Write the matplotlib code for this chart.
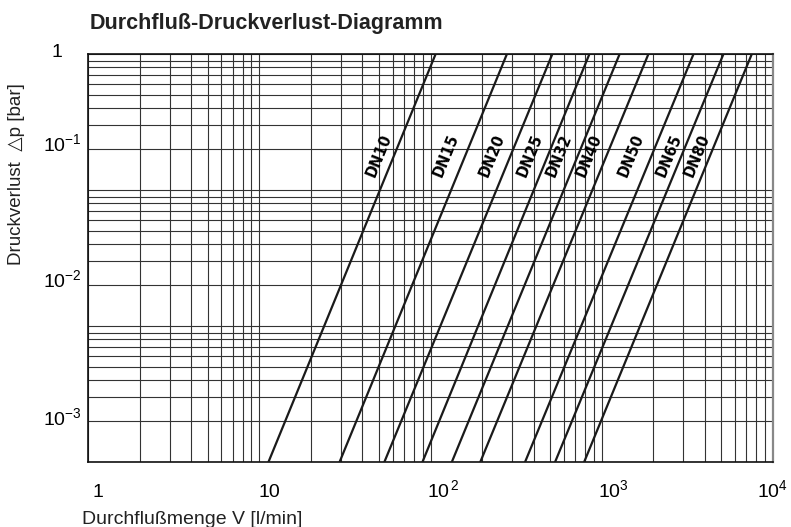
import matplotlib
matplotlib.use("Agg")
import matplotlib.pyplot as plt
from matplotlib.ticker import LogLocator, NullFormatter
import numpy as np

# pipe sizes and flow [l/min] read where each line meets the bottom (1e-3 bar) and top (1 bar)
dn_labels = ["DN10", "DN15", "DN20", "DN25", "DN32", "DN40", "DN50", "DN65", "DN80"]
q_at_low = [11.3, 29.4, 53.7, 89.6, 133, 195, 356, 533, 788]
q_at_high = [107, 279, 514, 846, 1270, 1870, 3430, 5130, 7510]
dp_ends = [1e-3, 1.0]

x_ticks = [1, 10, 100, 1000, 10000]
x_ticklabels = ["1", "10", r"$10^{\,2}$", r"$10^{3}$", r"$10^{4}$"]
y_ticks = [1.0, 0.1, 0.01, 0.001]
y_ticklabels = ["1", r"$10^{-1}$", r"$10^{-2}$", r"$10^{-3}$"]

# layout (pixel offsets of the hand placed labels)
x_label_dx = [4, -1, -3.5, -4, -16]
y_label_dx = [-26, -6, -6, -6]
y_label_dy = [-2.7, 38.7, 38.7, 37.5]
dn_label_dx = [-15, -19, -19, -18, -19, -18, -21, -13, -13]
dn_label_dp = 0.18

plt.rcParams["font.family"] = ["Liberation Sans", "DejaVu Sans"]
plt.rcParams["mathtext.fontset"] = "custom"
plt.rcParams["mathtext.rm"] = "Liberation Sans"
plt.rcParams["mathtext.it"] = "Liberation Sans:italic"
plt.rcParams["mathtext.bf"] = "Liberation Sans:bold"

W, H = 791, 527
fig = plt.figure(figsize=(W / 100, H / 100), dpi=100)
ax = fig.add_axes([88 / W, 1 - 462.3 / H, 685 / W, 408 / H])
ax.set_xscale("log")
ax.set_yscale("log")
ax.set_xlim(1, 1e4)
ax.set_ylim(1e-3, 1)

for axis in (ax.xaxis, ax.yaxis):
    axis.set_major_locator(LogLocator(base=10, numticks=20))
    axis.set_minor_locator(LogLocator(base=10, subs=np.arange(2, 10), numticks=20))
    axis.set_minor_formatter(NullFormatter())
ax.tick_params(which="both", length=0, labelbottom=False, labelleft=False)
ax.grid(True, which="both", color="#333333", linewidth=0.8)
ax.set_axisbelow(True)
for side in ["left", "top", "bottom"]:
    ax.spines[side].set_linewidth(1.2)
    ax.spines[side].set_color("#111111")
ax.spines["right"].set_color("#888888")
ax.spines["right"].set_linewidth(1.6)

for i, name in enumerate(dn_labels):
    ax.plot([q_at_low[i], q_at_high[i]], dp_ends, color="#1a1a1a", linewidth=1.6,
            solid_capstyle="butt", zorder=3)

    p0 = ax.transData.transform((q_at_low[i], dp_ends[0]))
    p1 = ax.transData.transform((q_at_high[i], dp_ends[1]))
    angle = np.degrees(np.arctan2(p1[1] - p0[1], p1[0] - p0[0]))

    t = (np.log10(dn_label_dp) - np.log10(dp_ends[0])) / (np.log10(dp_ends[1]) - np.log10(dp_ends[0]))
    xl = 10 ** (np.log10(q_at_low[i]) + t * (np.log10(q_at_high[i]) - np.log10(q_at_low[i])))
    ax.annotate(name, (xl, dn_label_dp), xytext=(dn_label_dx[i], 0), textcoords="offset pixels",
                rotation=angle, rotation_mode="anchor", ha="center", va="center",
                fontsize=10.5, fontweight="heavy", family="DejaVu Sans", zorder=4)

for i, (v, lab) in enumerate(zip(x_ticks, x_ticklabels)):
    ax.annotate(lab, (v, 0), xycoords=("data", "axes fraction"), xytext=(x_label_dx[i], -34.7),
                textcoords="offset pixels", ha="left", va="baseline", fontsize=14,
                annotation_clip=False)

for i, (v, lab) in enumerate(zip(y_ticks, y_ticklabels)):
    ax.annotate(lab, (0, v), xycoords=("axes fraction", "data"), xytext=(y_label_dx[i], y_label_dy[i]),
                textcoords="offset pixels", ha="right", va="baseline", fontsize=14,
                annotation_clip=False)

fig.text(90 / W, 1 - 29 / H, "Durchfluß-Druckverlust-Diagramm", fontsize=15.5, fontweight="bold",
         ha="left", va="baseline", color="#222222")
fig.text(82 / W, 1 - 524 / H, "Durchflußmenge V [l/min]", fontsize=14, ha="left", va="baseline",
         color="#222222")
fig.text(17 / W, 1 - 174 / H, "Druckverlust  \u25b3p [bar]", fontsize=13.5, rotation=90,
         ha="center", va="center", color="#222222")

fig.savefig("out.png", dpi=100)
